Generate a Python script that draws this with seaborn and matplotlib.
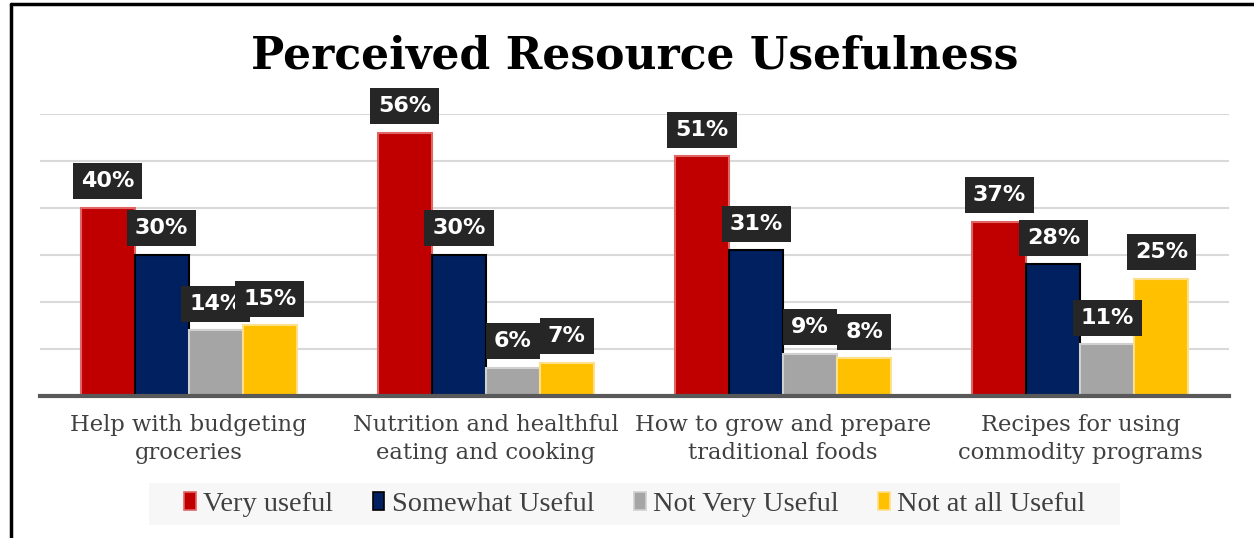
import matplotlib
matplotlib.use("Agg")
import matplotlib.pyplot as plt
from matplotlib.lines import Line2D
from matplotlib.patches import Rectangle
import pandas as pd
import seaborn as sns

# Survey topics and response shares (percent)
topics = [
    "Help with budgeting\ngroceries",
    "Nutrition and healthful\neating and cooking",
    "How to grow and prepare\ntraditional foods",
    "Recipes for using\ncommodity programs",
]
responses = ["Very useful", "Somewhat Useful", "Not Very Useful", "Not at all Useful"]
very_useful = [40, 56, 51, 37]
somewhat_useful = [30, 30, 31, 28]
not_very_useful = [14, 6, 9, 11]
not_at_all_useful = [15, 7, 8, 25]

colors = ["#C00000", "#002060", "#A5A5A5", "#FFC000"]
edges = ["#E06666", "#000000", "#D0D0D0", "#FFE08A"]

series = [very_useful, somewhat_useful, not_very_useful, not_at_all_useful]
rows = []
for resp, vals in zip(responses, series):
    for topic, v in zip(topics, vals):
        rows.append({"Topic": topic, "Response": resp, "Share": v})
df = pd.DataFrame(rows)

sns.set_theme(style="white")
plt.rcParams["font.family"] = ["DejaVu Serif"]

fig = plt.figure(figsize=(12.54, 5.38), dpi=100)
ax = fig.add_axes([0.0319, 0.264, 0.9482, 0.524])

sns.barplot(
    data=df, x="Topic", y="Share", hue="Response",
    order=topics, hue_order=responses, palette=colors,
    width=0.727, saturation=1, ax=ax, legend=False,
)

for cont, ec in zip(ax.containers, edges):
    for bar in cont:
        bar.set_edgecolor(ec)
        bar.set_linewidth(1.5)
    ax.bar_label(
        cont, fmt="%d%%", padding=12, color="white", fontsize=16,
        fontweight="bold", family="DejaVu Sans", clip_on=False,
        bbox=dict(boxstyle="square,pad=0.36", facecolor="#262626", edgecolor="none"),
    )

ax.set_ylim(0, 60)
ax.set_xlim(-0.5, 3.5)
ax.set_yticks(range(0, 61, 10))
ax.set_yticklabels([])
ax.tick_params(axis="y", length=0)
ax.yaxis.grid(True, color="#D9D9D9", linewidth=1.5)
ax.set_axisbelow(True)
for s in ["top", "right", "left"]:
    ax.spines[s].set_visible(False)
ax.spines["bottom"].set_color("#595959")
ax.spines["bottom"].set_linewidth(3)
ax.set_xlabel("")
ax.set_ylabel("")
ax.tick_params(axis="x", length=0, pad=13, labelsize=16.3, labelcolor="#404040")
for lbl in ax.get_xticklabels():
    lbl.set_linespacing(1.35)

fig.text(0.506, 0.895, "Perceived Resource Usefulness", ha="center", va="center",
         fontsize=31.8, fontweight="bold", family="DejaVu Serif", color="black")

# legend background band
fig.add_artist(Rectangle((149 / 1254, 1 - 525 / 538), (1120 - 149) / 1254, 42 / 538,
                         transform=fig.transFigure, facecolor="#F7F7F7",
                         edgecolor="none", zorder=0))

handles = [plt.Rectangle((0, 0), 1, 1, facecolor=c, edgecolor=e, linewidth=1.2)
           for c, e in zip(colors, edges)]
leg = fig.legend(
    handles, responses, loc="center", bbox_to_anchor=(0.506, 0.063), ncol=4,
    frameon=False, handlelength=0.42, handleheight=0.6,
    handletextpad=0.25, columnspacing=1.4, borderpad=0.35, borderaxespad=0,
    prop={"family": "Liberation Serif", "size": 20.4},
)
for t in leg.get_texts():
    t.set_color("#404040")

# outer frame (top and left edges)
fig.add_artist(Line2D([0.0088, 0.0088], [0, 0.993], color="black", linewidth=2.5,
                      transform=fig.transFigure))
fig.add_artist(Line2D([0.0088, 1.0], [0.993, 0.993], color="black", linewidth=2.5,
                      transform=fig.transFigure))

fig.savefig("out.png", dpi=100, facecolor="white")
